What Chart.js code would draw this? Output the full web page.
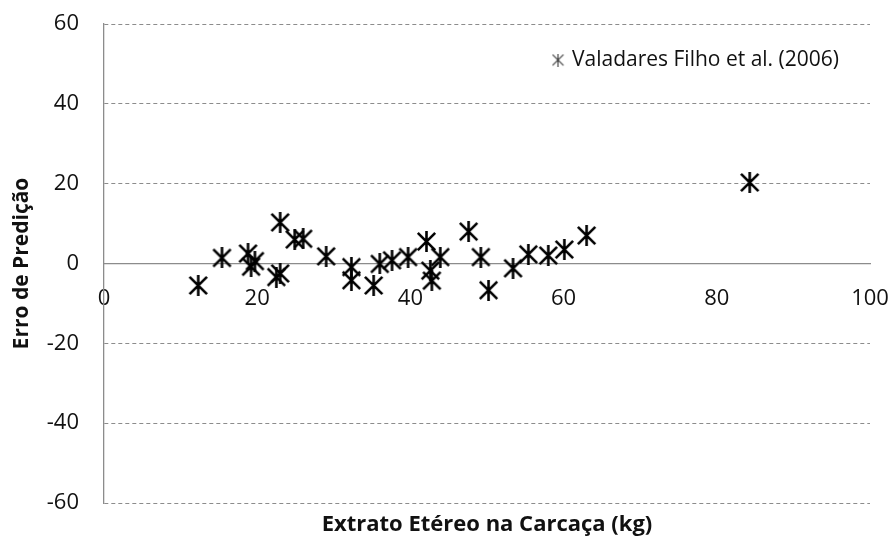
<!DOCTYPE html>
<html>
<head>
<meta charset="utf-8">
<script src="https://cdn.jsdelivr.net/npm/chart.js@4/dist/chart.umd.min.js"></script>
<style>
  html, body { margin: 0; padding: 0; background: #fff; }
  #wrap { width: 893px; height: 538px; }
</style>
</head>
<body>
<div id="wrap"><canvas id="chart" width="893" height="538"></canvas></div>
<script>
/* data */
const extratoEtereo = [12.3, 15.4, 18.8, 19.2, 19.7, 22.5, 23.0, 23.0, 24.9, 26.0,
  29.0, 32.3, 32.3, 35.2, 36.0, 37.6, 39.7, 42.1, 42.6, 42.8,
  43.9, 47.6, 49.2, 50.2, 53.4, 55.4, 58.0, 60.1, 63.0, 84.3];
const erroPredicao = [-5.5, 1.4, 2.5, -0.8, 0.6, -3.4, 10.3, -2.5, 6.0, 6.2,
  1.8, -0.9, -4.2, -5.5, -0.1, 0.8, 1.6, 5.5, -1.8, -4.3,
  1.6, 8.0, 1.6, -6.7, -1.2, 2.3, 2.0, 3.5, 7.0, 20.3];
const seriesLabel = "Valadares Filho et al. (2006)";
const xTitle = "Extrato Etéreo na Carcaça (kg)";
const yTitle = "Erro de Predição";

const FONT = "'Open Sans', sans-serif";

/* asterisk marker: X with a vertical bar */
function makeStar(size, lw) {
  const c = document.createElement("canvas");
  c.width = size;
  c.height = size;
  const g = c.getContext("2d");
  const p = lw / 2 + 0.5;
  g.strokeStyle = "#000";
  g.lineWidth = lw;
  g.beginPath();
  g.moveTo(p, p);
  g.lineTo(size - p, size - p);
  g.moveTo(size - p, p);
  g.lineTo(p, size - p);
  g.moveTo(size / 2, 0);
  g.lineTo(size / 2, size);
  g.stroke();
  return c;
}

const starBig = makeStar(21, 2.6);
const starSmall = makeStar(13, 1.1);

/* legend drawn inside the plot area */
const innerLegend = {
  id: "innerLegend",
  afterDraw(chart) {
    const ctx = chart.ctx;
    ctx.save();
    ctx.globalAlpha = 0.8;
    ctx.drawImage(starSmall, 558 - 6.5, 60 - 6.5);
    ctx.globalAlpha = 1;
    ctx.fillStyle = "#111";
    ctx.font = "21px " + FONT;
    ctx.textBaseline = "middle";
    ctx.fillText(seriesLabel, 572, 60);
    ctx.restore();
  },
};

/* chart.js adds tick padding to the chart area padding; drop it */
function noVerticalPadding(scale) {
  scale.paddingTop = 0;
  scale.paddingBottom = 0;
}

function displayChart() {
  const points = extratoEtereo.map((x, i) => ({ x: x, y: erroPredicao[i] }));

  const config = {
    type: "scatter",
    data: {
      datasets: [
        {
          label: seriesLabel,
          data: points,
          pointStyle: starBig,
          pointRadius: 10,
          xAxisID: "x",
          yAxisID: "y",
        },
      ],
    },
    options: {
      responsive: false,
      animation: false,
      layout: { padding: { left: 0, right: 23, top: 24, bottom: 0 } },
      plugins: { legend: { display: false }, tooltip: { enabled: false } },
      scales: {
        x: {
          type: "linear",
          min: 0,
          max: 100,
          position: { y: 0 },
          grid: { display: false, drawTicks: false },
          border: { display: true, color: "#8c8c8c", width: 1.3 },
          ticks: {
            stepSize: 20,
            padding: 22,
            color: "#111",
            font: { family: FONT, size: 22 },
          },
          afterFit(scale) {
            scale.height = 0;
            scale.paddingLeft = 0;
            scale.paddingRight = 0;
          },
        },
        xb: {
          type: "linear",
          min: 0,
          max: 100,
          position: "bottom",
          grid: { display: false, drawTicks: false },
          border: { display: false },
          ticks: { display: false },
          title: {
            display: true,
            text: xTitle,
            color: "#111",
            font: { family: FONT, size: 22, weight: "bold" },
            padding: { top: 1, bottom: 0 },
          },
          afterFit(scale) { scale.height = 35; },
        },
        y: {
          type: "linear",
          min: -60,
          max: 60,
          position: "left",
          grid: {
            color: "#8c8c8c",
            lineWidth: 1,
            drawTicks: false,
          },
          /* in v4 the dash of the grid lines lives on border */
          border: { display: true, color: "#8c8c8c", width: 1.3, dash: [4, 3] },
          ticks: {
            stepSize: 20,
            padding: 25,
            color: "#111",
            font: { family: FONT, size: 22 },
          },
          title: {
            display: true,
            text: yTitle,
            color: "#111",
            font: { family: FONT, size: 21, weight: "bold" },
            padding: { top: 9, bottom: 0 },
          },
          afterFit(scale) {
            scale.width = 104;
            noVerticalPadding(scale);
          },
        },
      },
    },
    plugins: [innerLegend],
  };

  const myChart = new Chart(document.getElementById("chart"), config);
  return myChart;
}

displayChart();
</script>
</body>
</html>
